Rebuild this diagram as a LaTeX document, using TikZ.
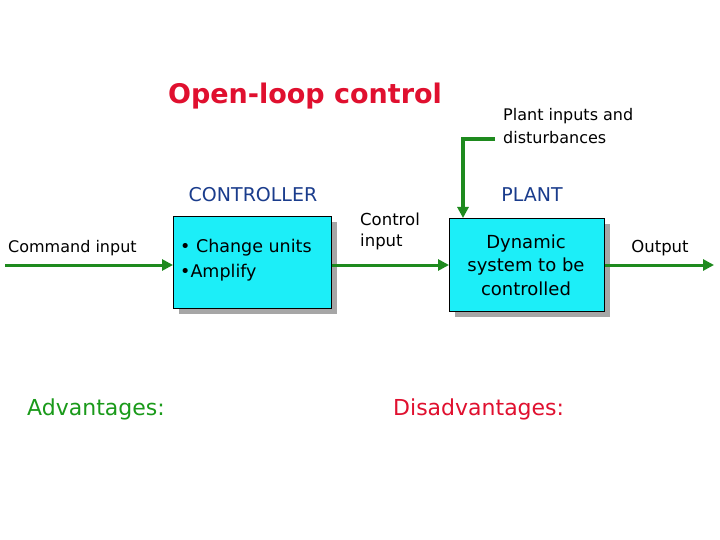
\documentclass[tikz,border=0pt]{standalone}
\usepackage{fontspec}
\setmainfont{DejaVu Sans}
\usetikzlibrary{arrows.meta}
\definecolor{boxcyan}{HTML}{1CEEF8}
\definecolor{arrgreen}{HTML}{1E8A1E}
\definecolor{hdblue}{HTML}{1A3C8C}
\definecolor{titlered}{HTML}{E0102F}
\definecolor{advgreen}{HTML}{1A9A1A}
\tikzset{
  blk/.style={draw=black, line width=0.8pt, fill=boxcyan, inner sep=0pt, anchor=north west},
  shadowbox/.style={fill=gray!70, draw=none},
  flow/.style={draw=arrgreen, line width=3pt, -{Triangle[length=11pt,width=11pt]}},
  lbl/.style={font=\fontsize{16}{20}\selectfont, text=black, inner sep=0pt},
  hdr/.style={font=\fontsize{19}{22}\selectfont, text=hdblue, inner sep=0pt},
}
\begin{document}
\begin{tikzpicture}[x=1pt,y=-1pt]
\useasboundingbox (0,0) rectangle (720,540);
\fill[white] (0,0) rectangle (720,540);
% shadows
\fill[shadowbox] (179,222) rectangle (337,314);
\fill[shadowbox] (455,224) rectangle (610,317);
% boxes
\node[blk, minimum width=158pt, minimum height=92pt] (ctrl) at (173,216) {};
\node[blk, minimum width=155pt, minimum height=93pt] (plant) at (449,218) {};
% title
\node[font=\fontsize{27}{30}\selectfont\bfseries, text=titlered, inner sep=0pt] (title) at (305,96) {Open-loop control};
% headers
\node[hdr] (hc) at (253,195) {CONTROLLER};
\node[hdr] (hp) at (532,195) {PLANT};
% labels
\node[lbl, anchor=west] (cmd) at (8,248) {Command input};
\node[lbl, anchor=north west, align=left, font=\fontsize{17.5}{25}\selectfont] (cu) at (180,239) {• Change units\\•Amplify};
\node[lbl, anchor=north west, align=left, font=\fontsize{16.5}{21}\selectfont] (ci) at (360,213) {Control\\input};
\node[lbl, anchor=center, align=center, font=\fontsize{18}{23.5}\selectfont] (dyn) at (526,265) {Dynamic\\system to be\\controlled};
\node[lbl, font=\fontsize{16.5}{20}\selectfont] (out) at (660,248) {Output};
\node[lbl, anchor=north west, align=left, font=\fontsize{16}{23}\selectfont] (pid) at (503,108) {Plant inputs and\\disturbances};
\node[font=\fontsize{22}{24}\selectfont, text=advgreen, anchor=west, inner sep=0pt] (adv) at (27,409) {Advantages:};
\node[font=\fontsize{22}{24}\selectfont, text=titlered, anchor=west, inner sep=0pt] (dis) at (393,409) {Disadvantages:};
% connectors
\coordinate (cin) at (5,265);
\coordinate (oend) at (714,265);
\coordinate (dstart) at (495,139);
\coordinate (dcorner) at (463,139);
\draw[flow] (cin) -- (ctrl.west |- cin);
\draw[flow] (ctrl.east |- cin) -- (plant.west |- cin);
\draw[flow] (plant.east |- cin) -- (oend);
\draw[flow, line width=3.5pt] (dstart) -- (dcorner) -- (dcorner |- plant.north);
\end{tikzpicture}
\end{document}
